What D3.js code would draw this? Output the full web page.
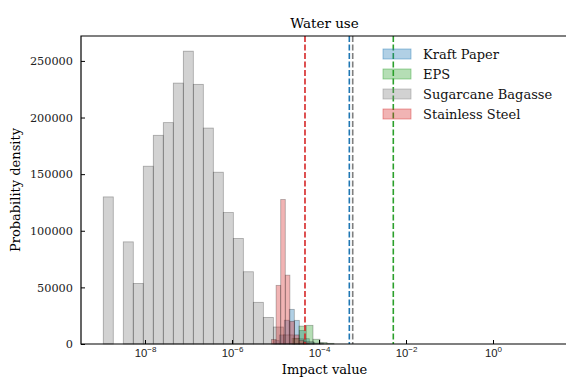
<!DOCTYPE html>
<html>
<head>
<meta charset="utf-8">
<script src="https://cdn.jsdelivr.net/npm/d3@7"></script>
<style>
  body { margin: 0; background: #fff; }
  svg { font-family: "DejaVu Serif", serif; }
</style>
</head>
<body>
<div id="chart"></div>
<script>
// histogram bins: edges are log10 of the impact value, densities per bin
const kraftEdges = [-5.028, -4.913, -4.798, -4.683, -4.568, -4.453, -4.338, -4.223, -4.108];
const kraftDensity = [3000, 8000, 21000, 30600, 20900, 12000, 4700, 1500];

const epsEdges = [-4.621, -4.460, -4.299, -4.138, -3.977, -3.816, -3.655];
const epsDensity = [5000, 15800, 16500, 4200, 1300, 600];

const bagasseEdges = [-8.959, -8.729, -8.499, -8.269, -8.039, -7.809, -7.579, -7.349, -7.119,
    -6.889, -6.659, -6.429, -6.199, -5.969, -5.739, -5.509, -5.279, -5.049, -4.819, -4.589,
    -4.359, -4.129, -3.899];
const bagasseDensity = [129900, 0, 90200, 53500, 157000, 184300, 195500, 230400, 258600, 229300,
    190700, 151700, 116100, 93200, 63800, 36800, 23500, 15000, 8000, 4500, 2000, 800];

const steelEdges = [-5.092, -4.986, -4.880, -4.775, -4.669, -4.563, -4.458, -4.352, -4.246];
const steelDensity = [4000, 51800, 127600, 60800, 20000, 8000, 3000, 1000];

// mean lines (log10)
const meanExp = { steel: -4.322, kraft: -3.303, bagasse: -3.225, eps: -2.292 };

const seriesNames = ["Kraft Paper", "EPS", "Sugarcane Bagasse", "Stainless Steel"];
const seriesColors = ["#1f77b4", "#2ca02c", "#7f7f7f", "#d62728"];
const xTickExp = [-8, -6, -4, -2, 0];
const yTicks = [0, 50000, 100000, 150000, 200000, 250000];

const W = 566, H = 379;
const margin = { left: 81, right: 568, top: 36, bottom: 344 };

const svg = d3.select('#chart').append('svg')
    .attr('width', W).attr('height', H);

const x = d3.scaleLog()
    .domain([Math.pow(10, -9.471), Math.pow(10, 1.724)])
    .range([margin.left, margin.right]);
const y = d3.scaleLinear()
    .domain([0, 272000])
    .range([margin.bottom, margin.top]);

function toBins(edges, dens) {
    return dens.map((d, i) => ({ x0: Math.pow(10, edges[i]), x1: Math.pow(10, edges[i + 1]), d: d }));
}

const allSeries = [
    toBins(kraftEdges, kraftDensity),
    toBins(epsEdges, epsDensity),
    toBins(bagasseEdges, bagasseDensity),
    toBins(steelEdges, steelDensity)
];

const plot = svg.append('g');

allSeries.forEach((bins, k) => {
    plot.selectAll(null)
        .data(bins.filter(b => b.d > 0))
        .enter()
        .append('rect')
        .attr('x', b => x(b.x0))
        .attr('y', b => y(b.d))
        .attr('width', b => x(b.x1) - x(b.x0))
        .attr('height', b => y(0) - y(b.d))
        .attr('fill', seriesColors[k])
        .attr('fill-opacity', 0.35)
        .attr('stroke', '#000')
        .attr('stroke-opacity', 0.3)
        .attr('stroke-width', 0.8);
});

// dashed mean lines
const means = [
    { e: meanExp.steel, c: seriesColors[3] },
    { e: meanExp.kraft, c: seriesColors[0] },
    { e: meanExp.bagasse, c: seriesColors[2] },
    { e: meanExp.eps, c: seriesColors[1] }
];
plot.selectAll(null)
    .data(means)
    .enter()
    .append('line')
    .attr('x1', d => x(Math.pow(10, d.e)))
    .attr('x2', d => x(Math.pow(10, d.e)))
    .attr('y1', margin.top)
    .attr('y2', margin.bottom)
    .attr('stroke', d => d.c)
    .attr('stroke-width', 1.6)
    .attr('stroke-dasharray', '6 2.5');

// axes (ticks point inward)
const xAxis = svg.append('g')
    .attr('transform', `translate(0, ${margin.bottom})`)
    .call(d3.axisBottom(x)
        .tickValues(xTickExp.map(e => Math.pow(10, e)))
        .tickSize(-4)
        .tickFormat(() => ''));
xAxis.select('.domain').remove();
xAxis.selectAll('.tick line').attr('stroke', '#000');

xAxis.selectAll('.tick').each(function (d, i) {
    let t = d3.select(this).append('text')
        .attr('y', 13)
        .attr('fill', '#222')
        .attr('text-anchor', 'middle')
        .style('font-size', '11.3px');
    t.append('tspan').text('10');
    t.append('tspan').attr('dy', -5).style('font-size', '8px')
        .text(xTickExp[i] === 0 ? '0' : '\u2212' + Math.abs(xTickExp[i]));
});

const yAxis = svg.append('g')
    .attr('transform', `translate(${margin.left}, 0)`)
    .call(d3.axisLeft(y)
        .tickValues(yTicks)
        .tickSize(-4)
        .tickPadding(8)
        .tickFormat(d3.format('d')));
yAxis.select('.domain').remove();
yAxis.selectAll('.tick line').attr('stroke', '#000');
yAxis.selectAll('.tick text')
    .attr('fill', '#222')
    .style('font-family', '"DejaVu Serif", serif')
    .style('font-size', '11.3px');

// frame: left, bottom, top
svg.append('path')
    .attr('d', `M${margin.right},${margin.top}H${margin.left}V${margin.bottom}H${margin.right}`)
    .attr('fill', 'none')
    .attr('stroke', '#000')
    .attr('stroke-width', 1.2);

// titles
svg.append('text')
    .attr('x', (margin.left + margin.right) / 2).attr('y', 28)
    .attr('text-anchor', 'middle')
    .style('font-size', '13.5px')
    .text('Water use');
svg.append('text')
    .attr('x', (margin.left + margin.right) / 2).attr('y', 374)
    .attr('text-anchor', 'middle')
    .style('font-size', '13px')
    .text('Impact value');
svg.append('text')
    .attr('transform', `translate(20, ${(margin.top + margin.bottom) / 2}) rotate(-90)`)
    .attr('text-anchor', 'middle')
    .style('font-size', '13px')
    .text('Probability density');

// legend
const legend = svg.append('g')
    .attr('transform', 'translate(383, 49)');
const rows = legend.selectAll('g')
    .data(seriesNames)
    .enter()
    .append('g')
    .attr('transform', (d, i) => `translate(0, ${i * 20})`);
rows.append('rect')
    .attr('width', 28).attr('height', 10)
    .attr('fill', (d, i) => seriesColors[i])
    .attr('fill-opacity', 0.35)
    .attr('stroke', (d, i) => seriesColors[i])
    .attr('stroke-opacity', 0.5)
    .attr('stroke-width', 0.8);
rows.append('text')
    .attr('x', 40).attr('y', 9.5)
    .style('font-size', '13px')
    .attr('fill', '#111')
    .text(d => d);
</script>
</body>
</html>
